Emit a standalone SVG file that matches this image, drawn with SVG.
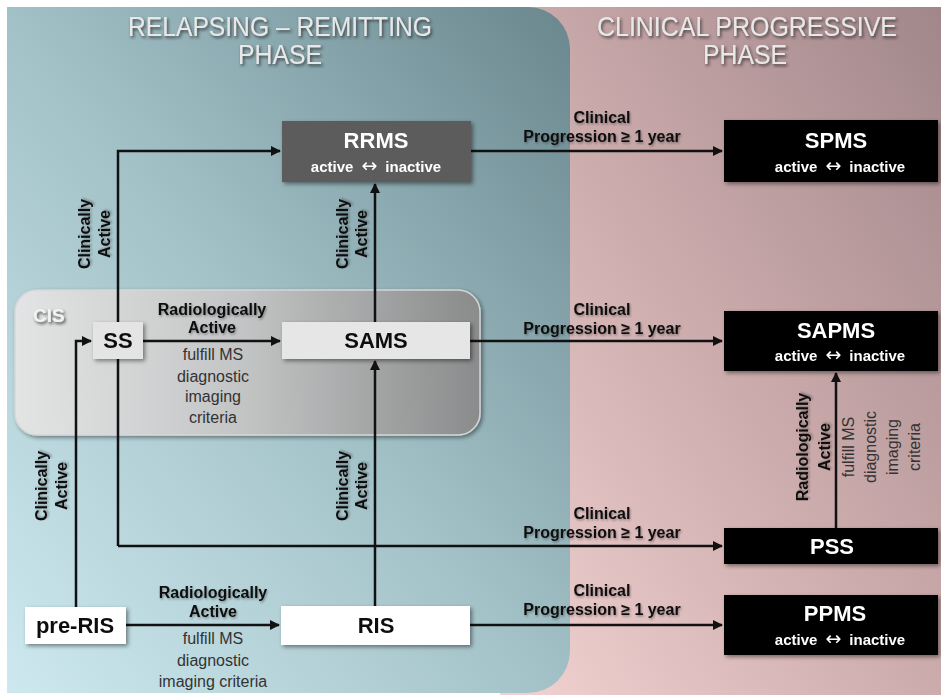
<svg xmlns="http://www.w3.org/2000/svg" width="941" height="695" viewBox="0 0 941 695">
<defs>
<linearGradient id="gLeft" x1="0" y1="1" x2="1" y2="0">
<stop offset="0" stop-color="#cde9ef"/>
<stop offset="0.5" stop-color="#a2c1c7"/>
<stop offset="1" stop-color="#6a878e"/>
</linearGradient>
<linearGradient id="gRight" x1="0" y1="1" x2="1" y2="0">
<stop offset="0" stop-color="#f3d2d2"/>
<stop offset="0.5" stop-color="#ccabac"/>
<stop offset="1" stop-color="#a1878a"/>
</linearGradient>
<linearGradient id="gCis" x1="0" y1="0" x2="1" y2="0">
<stop offset="0" stop-color="#e6e6e6"/>
<stop offset="0.5" stop-color="#c4c4c4"/>
<stop offset="1" stop-color="#8a8a8a"/>
</linearGradient>
<filter id="shTitle" x="-10%" y="-30%" width="120%" height="160%">
<feDropShadow dx="1.5" dy="2" stdDeviation="1.5" flood-color="#222" flood-opacity="0.75"/>
</filter>
<filter id="shBox" x="-10%" y="-20%" width="125%" height="150%">
<feDropShadow dx="2" dy="2" stdDeviation="2" flood-color="#000" flood-opacity="0.45"/>
</filter>
<filter id="shTxt" x="-10%" y="-30%" width="120%" height="160%">
<feDropShadow dx="1" dy="1.5" stdDeviation="1" flood-color="#000" flood-opacity="0.35"/>
</filter>
<marker id="arr" viewBox="0 0 10 10" refX="9" refY="5" markerWidth="4" markerHeight="4" orient="auto" markerUnits="strokeWidth">
<path d="M0,0 L10,5 L0,10 Z" fill="#111"/>
</marker>
</defs>
<style>
.title{font-family:"Liberation Sans",Arial,sans-serif;font-size:28px;fill:#e8e8e8;text-anchor:middle;filter:url(#shTitle)}
.lbl{font-family:"Liberation Sans",Arial,sans-serif;font-size:16px;font-weight:bold;fill:#111;text-anchor:middle;filter:url(#shTxt)}
.sub{font-family:"Liberation Sans",Arial,sans-serif;font-size:16px;fill:#333;text-anchor:middle}
.nm{font-family:"Liberation Sans",Arial,sans-serif;font-size:22px;font-weight:bold;text-anchor:middle}
.st{font-family:"Liberation Sans","DejaVu Sans",sans-serif;font-size:15px;font-weight:bold;text-anchor:middle}
.ar{font-family:"DejaVu Sans",sans-serif;font-weight:normal;font-size:19px}
.ln{fill:none;stroke:#111;stroke-width:2.5}
.box{filter:url(#shBox)}
</style>
<rect x="0" y="0" width="941" height="695" fill="#ffffff"/>
<rect x="500" y="7" width="441" height="688" fill="url(#gRight)"/>
<path d="M7,7 H528 A42,42 0 0 1 570,49 V651 A42,42 0 0 1 528,693 H7 Z" fill="url(#gLeft)"/>
<text class="title" x="280" y="36" textLength="304" lengthAdjust="spacingAndGlyphs">RELAPSING – REMITTING</text>
<text class="title" x="280" y="64" textLength="84" lengthAdjust="spacingAndGlyphs">PHASE</text>
<text class="title" x="747" y="36" textLength="300" lengthAdjust="spacingAndGlyphs">CLINICAL PROGRESSIVE</text>
<text class="title" x="745" y="64" textLength="84" lengthAdjust="spacingAndGlyphs">PHASE</text>
<g id="cis">
<rect x="15" y="290" width="465" height="145" rx="22" fill="url(#gCis)" stroke="#d8d8d8" stroke-width="1.5" filter="url(#shBox)" opacity="0.95"/>
<text x="33" y="322" font-family="Liberation Sans,Arial,sans-serif" font-size="19" font-weight="bold" fill="#f2f2f2" filter="url(#shTitle)">CIS</text>
</g>
<g id="connectors">
<path class="ln" d="M118,546 V151 H280" marker-end="url(#arr)"/>
<path class="ln" d="M118,546 H722" marker-end="url(#arr)"/>
<path class="ln" d="M76,607 V341 H91" marker-end="url(#arr)"/>
<path class="ln" d="M143,341 H280" marker-end="url(#arr)"/>
<path class="ln" d="M375,322 V184" marker-end="url(#arr)"/>
<path class="ln" d="M375,606 V361" marker-end="url(#arr)"/>
<path class="ln" d="M471,151 H722" marker-end="url(#arr)"/>
<path class="ln" d="M470,341 H722" marker-end="url(#arr)"/>
<path class="ln" d="M126,625 H279" marker-end="url(#arr)"/>
<path class="ln" d="M470,625 H722" marker-end="url(#arr)"/>
<path class="ln" d="M836,528 V373" marker-end="url(#arr)"/>
</g>
<g id="labels">
<text class="lbl" transform="translate(0,234) rotate(-90)"><tspan x="0" y="90">Clinically</tspan><tspan x="0" y="110">Active</tspan></text>
<text class="lbl" transform="translate(0,234) rotate(-90)"><tspan x="0" y="348">Clinically</tspan><tspan x="0" y="367">Active</tspan></text>
<text class="lbl" transform="translate(0,486) rotate(-90)"><tspan x="0" y="348">Clinically</tspan><tspan x="0" y="367">Active</tspan></text>
<text class="lbl" transform="translate(0,486) rotate(-90)"><tspan x="0" y="47">Clinically</tspan><tspan x="0" y="67">Active</tspan></text>
<text class="lbl" x="602" y="123">Clinical</text>
<text class="lbl" x="602" y="142">Progression ≥ 1 year</text>
<text class="lbl" x="602" y="315">Clinical</text>
<text class="lbl" x="602" y="334">Progression ≥ 1 year</text>
<text class="lbl" x="602" y="519">Clinical</text>
<text class="lbl" x="602" y="538">Progression ≥ 1 year</text>
<text class="lbl" x="602" y="596">Clinical</text>
<text class="lbl" x="602" y="615">Progression ≥ 1 year</text>
<text class="lbl" x="212" y="315">Radiologically</text>
<text class="lbl" x="212" y="333">Active</text>
<text class="sub" x="213" y="360">fulfill MS</text>
<text class="sub" x="213" y="382">diagnostic</text>
<text class="sub" x="213" y="402">imaging</text>
<text class="sub" x="213" y="423">criteria</text>
<text class="lbl" x="213" y="598">Radiologically</text>
<text class="lbl" x="213" y="617">Active</text>
<text class="sub" x="213" y="644">fulfill MS</text>
<text class="sub" x="213" y="666">diagnostic</text>
<text class="sub" x="213" y="687">imaging criteria</text>
<text class="lbl" transform="translate(0,447) rotate(-90)"><tspan x="0" y="808">Radiologically</tspan><tspan x="0" y="830">Active</tspan></text>
<text class="sub" transform="translate(0,447) rotate(-90)"><tspan x="0" y="854">fulfill MS</tspan><tspan x="0" y="876">diagnostic</tspan><tspan x="0" y="898">imaging</tspan><tspan x="0" y="920">criteria</tspan></text>
</g>
<g id="rrms" class="box">
<rect x="282" y="121" width="189" height="61" fill="#5b5b5b"/>
<text class="nm" x="376" y="148" fill="#fff">RRMS</text>
<text class="st" x="376" y="172" fill="#fff">active<tspan class="ar" dx="8">↔</tspan><tspan dx="8">inactive</tspan></text>
</g>
<g id="spms" class="box">
<rect x="724" y="120" width="214" height="62" fill="#000"/>
<text class="nm" x="836" y="148" fill="#fff">SPMS</text>
<text class="st" x="840" y="172" fill="#fff">active<tspan class="ar" dx="8">↔</tspan><tspan dx="8">inactive</tspan></text>
</g>
<g id="ss" class="box">
<rect x="93" y="322" width="50" height="37" fill="#e4e4e4"/>
<text class="nm" x="118" y="348" fill="#111">SS</text>
</g>
<g id="sams" class="box">
<rect x="282" y="322" width="188" height="37" fill="#e6e6e6"/>
<text class="nm" x="376" y="348" fill="#111">SAMS</text>
</g>
<g id="sapms" class="box">
<rect x="724" y="311" width="214" height="60" fill="#000"/>
<text class="nm" x="836" y="338" fill="#fff">SAPMS</text>
<text class="st" x="840" y="361" fill="#fff">active<tspan class="ar" dx="8">↔</tspan><tspan dx="8">inactive</tspan></text>
</g>
<g id="pss" class="box">
<rect x="724" y="528" width="214" height="36" fill="#000"/>
<text class="nm" x="832" y="554" fill="#fff">PSS</text>
</g>
<g id="pre-ris" class="box">
<rect x="25" y="607" width="101" height="37" fill="#fff"/>
<text class="nm" x="75" y="633" fill="#111">pre-RIS</text>
</g>
<g id="ris" class="box">
<rect x="281" y="606" width="189" height="39" fill="#fff"/>
<text class="nm" x="376" y="633" fill="#111">RIS</text>
</g>
<g id="ppms" class="box">
<rect x="724" y="595" width="214" height="60" fill="#000"/>
<text class="nm" x="835" y="621" fill="#fff">PPMS</text>
<text class="st" x="840" y="645" fill="#fff">active<tspan class="ar" dx="8">↔</tspan><tspan dx="8">inactive</tspan></text>
</g>
</svg>
